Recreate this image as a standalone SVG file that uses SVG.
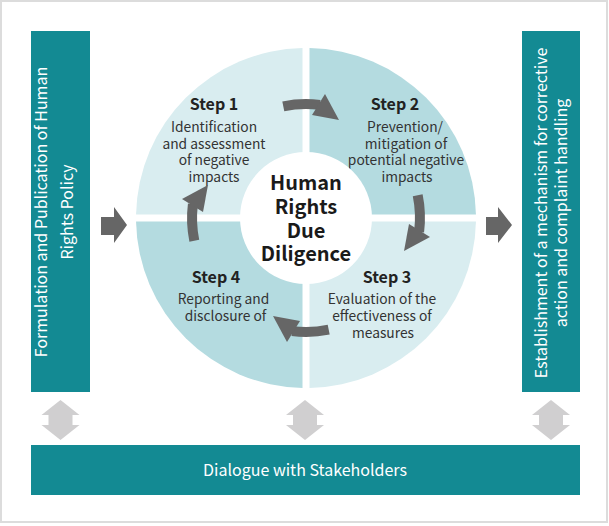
<svg xmlns="http://www.w3.org/2000/svg" xmlns:xlink="http://www.w3.org/1999/xlink" width="609" height="526" viewBox="0 0 609 526">
<style>
text { font-family: "Noto Sans CJK JP", "Source Sans Pro", "Noto Sans", sans-serif; }
.box { fill: #138a93; }
.boxt { fill: #ffffff; font-size: 16px; text-anchor: middle; }
.light { fill: #d9edf0; }
.dark { fill: #b4dbe0; }
.step { fill: #222222; font-size: 16px; font-weight: bold; text-anchor: middle; }
.body { fill: #333333; font-size: 13.8px; text-anchor: middle; }
.ctr { fill: #1a1a1a; font-size: 20px; font-weight: bold; text-anchor: middle; }
.darr { fill: #666666; }
.garr { fill: #d0cfd0; }
</style>
<defs>
<g id="carrow">
<path d="M283.3,106.3 A114,114 0 0 1 319.9,104.9" fill="none" stroke="#666666" stroke-width="10"/>
<polygon points="325,94 339,120 312,115" fill="#666666"/>
</g>
<polygon id="garrow" points="0,0 19,15 12,15 12,25 19,25 0,40 -19,25 -12,25 -12,15 -19,15"/>
</defs>
<rect x="1" y="1" width="606" height="521" fill="#ffffff" stroke="#dcdcdc" stroke-width="2"/>

<g id="policy">
<rect class="box" x="31" y="31" width="59" height="361"/>
<text class="boxt" transform="translate(47,212) rotate(-90)">Formulation and Publication of Human</text>
<text class="boxt" transform="translate(73,212) rotate(-90)">Rights Policy</text>
</g>

<g id="mechanism">
<rect class="box" x="522" y="31" width="58" height="361"/>
<text class="boxt" transform="translate(547,213) rotate(-90)">Establishment of a mechanism for corrective</text>
<text class="boxt" transform="translate(567,213) rotate(-90)">action and complaint handling</text>
</g>

<g id="stakeholders">
<rect class="box" x="31" y="445" width="549" height="50"/>
<text class="boxt" x="305" y="476">Dialogue with Stakeholders</text>
</g>

<g id="step1">
<path class="light" d="M302.5,214.5 L302.5,48.04 A170,170 0 0 0 136.04,214.5 Z"/>
<text class="step" x="214" y="110">Step 1</text>
<text class="body" x="214" y="131.5">Identification</text>
<text class="body" x="214" y="148.5">and assessment</text>
<text class="body" x="214" y="165">of negative</text>
<text class="body" x="214" y="181.5">impacts</text>
</g>

<g id="step2">
<path class="dark" d="M309.5,214.5 L475.96,214.5 A170,170 0 0 0 309.5,48.04 Z"/>
<text class="step" x="395" y="110">Step 2</text>
<text class="body" x="405" y="131.5">Prevention/</text>
<text class="body" x="406" y="148.5">mitigation of</text>
<text class="body" x="406" y="165">potential negative</text>
<text class="body" x="407" y="181.5">impacts</text>
</g>

<g id="step3">
<path class="light" d="M309.5,221.5 L309.5,387.96 A170,170 0 0 0 475.96,221.5 Z"/>
<text class="step" x="387" y="283">Step 3</text>
<text class="body" x="382" y="303.5">Evaluation of the</text>
<text class="body" x="382" y="320.5">effectiveness of</text>
<text class="body" x="383" y="337.5">measures</text>
</g>

<g id="step4">
<path class="dark" d="M302.5,221.5 L136.04,221.5 A170,170 0 0 0 302.5,387.96 Z"/>
<text class="step" x="216" y="283">Step 4</text>
<text class="body" x="223.5" y="303.5">Reporting and</text>
<text class="body" x="225.5" y="320.5">disclosure of</text>
</g>

<g id="center">
<circle cx="306" cy="218" r="66" fill="#ffffff"/>
<text class="ctr" x="306" y="190">Human</text>
<text class="ctr" x="306" y="214">Rights</text>
<text class="ctr" x="306" y="237.5">Due</text>
<text class="ctr" x="306" y="261">Diligence</text>
</g>

<g id="connectors">
<use xlink:href="#carrow"/>
<use xlink:href="#carrow" transform="rotate(90 306 218)"/>
<use xlink:href="#carrow" transform="rotate(180 306 218)"/>
<use xlink:href="#carrow" transform="rotate(270 306 218)"/>
<polygon class="darr" points="101,217 114,217 114,207 127,225 114,243 114,235 101,235"/>
<polygon class="darr" points="486,217 498,217 498,207 512,225 498,243 498,235 486,235"/>
<use xlink:href="#garrow" class="garr" transform="translate(60.5,400)"/>
<use xlink:href="#garrow" class="garr" transform="translate(305,400)"/>
<use xlink:href="#garrow" class="garr" transform="translate(551,400)"/>
</g>
</svg>
